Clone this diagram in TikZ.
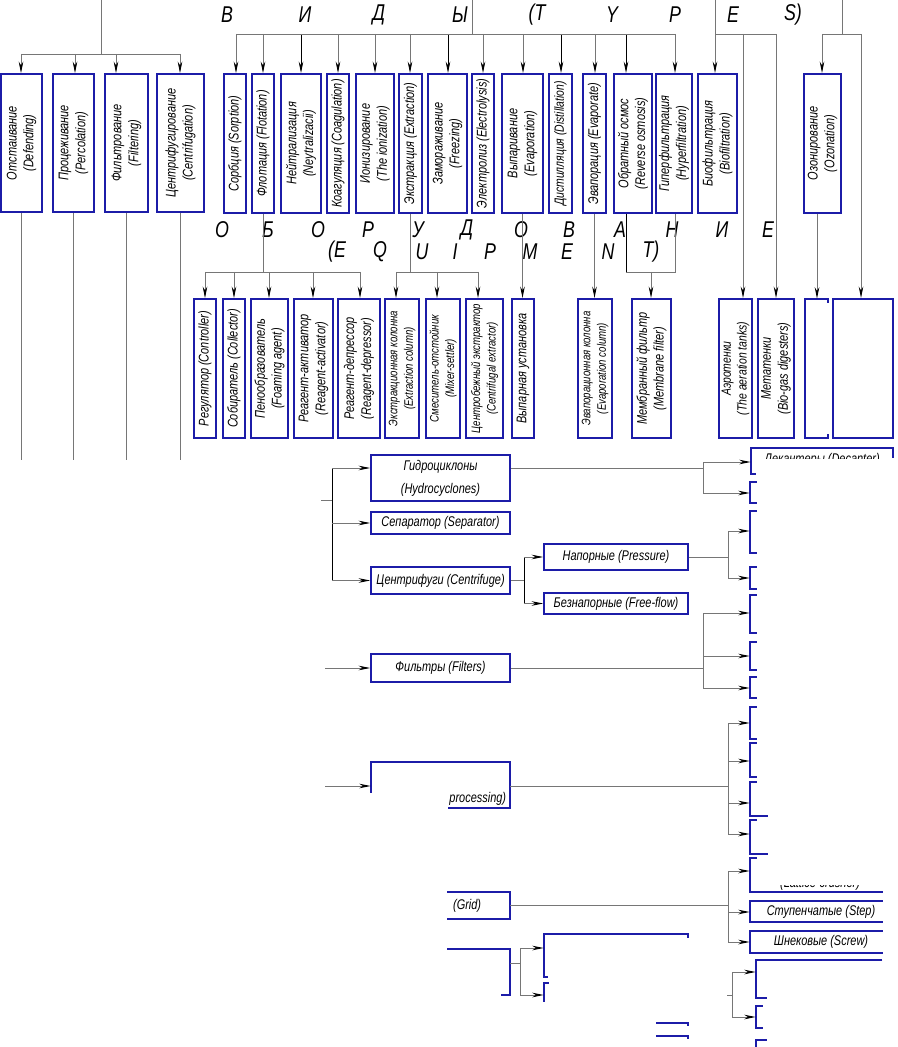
\documentclass[tikz,border=0pt]{standalone}
\usepackage{fontspec}
\setmainfont{Liberation Sans}[FakeStretch=0.78]
\usetikzlibrary{arrows.meta}
\definecolor{boxblue}{HTML}{1C1CA8}
\definecolor{wire}{HTML}{767676}
\newlength\pxu
\setlength\pxu{0.02cm}
\tikzset{
  typebox/.style = {draw=boxblue, line width=1.1pt, rotate=90, inner sep=0.5pt,
                    align=center, font=\fontsize{8}{9.6}\selectfont\itshape},
  tight/.style   = {font=\fontsize{7}{8.8}\selectfont\itshape},
  mid/.style     = {font=\fontsize{7.6}{9}\selectfont\itshape},
  rowbox/.style  = {draw=boxblue, line width=1.1pt, inner sep=0.5pt,
                    align=center, font=\fontsize{8}{9.6}\selectfont\itshape},
  rowtext/.style = {inner sep=0.5pt, align=center,
                    font=\fontsize{8}{9.6}\selectfont\itshape},
  ghost/.style   = {inner sep=0pt},
  partbox/.style = {draw=boxblue, line width=1.1pt},
  wirel/.style   = {draw=wire, line width=0.5pt},
  feed/.style    = {wirel, -{Stealth[length=6.5pt, width=2.6pt, color=black]}},
  darkfeed/.style= {feed, draw=black},
  headtxt/.style = {font=\fontsize{13}{13}\selectfont\itshape, inner sep=0pt},
}

\begin{document}
\begin{tikzpicture}[x=0.02cm, y=-0.02cm]
  \useasboundingbox (0,0) rectangle (897,1047);

  % ---------------- headings
  \foreach \c/\x in {В/227, И/305, Д/379, Ы/460, {(T}/537, Y/612, P/675, E/733, {S)}/793}
    \node[headtxt] (ha\x) at (\x,15) {\c};
  \foreach \c/\x in {О/222, Б/268, О/318, Р/368, У/418, Д/467, О/521, В/569, А/620, Н/672, И/722, Е/768}
    \node[headtxt] (hb\x) at (\x,230) {\c};
  \foreach \c/\x in {{(E}/337, Q/380, U/422, I/455, P/490, M/530, E/567, N/608, {T)}/651}
    \node[headtxt] (hc\x) at (\x,252) {\c};

  % ---------------- methods, left group
  \node[typebox, minimum width=138\pxu, minimum height=41\pxu] (defend) at (21.5,143) {Отстаивание\\(Defending)};
  \node[typebox, minimum width=138\pxu, minimum height=41\pxu] (percol) at (73.5,143) {Процеживание\\(Percolation)};
  \node[typebox, minimum width=138\pxu, minimum height=43\pxu] (filtr) at (126.5,143) {Фильтрование\\(Filtering)};
  \node[typebox, minimum width=138\pxu, minimum height=47\pxu] (centr) at (180.5,143) {Центрифугирование\\(Centrifugation)};

  \coordinate (ltop) at (101,0);
  \coordinate (lend) at (0,460);
  \foreach \x/\n in {21/defend, 75/percol, 116/filtr, 180/centr} {
    \coordinate (l\n) at (\x,54);
    \draw[feed] (l\n) -- (l\n |- \n.east);
    \draw[wirel] (\n.west) -- (\n.west |- lend);
  }
  \draw[wirel] (ltop) -- (ltop |- ldefend);
  \draw[wirel] (ldefend) -- (lcentr);

  % ---------------- methods, main group
  \node[typebox, minimum width=139\pxu, minimum height=22\pxu] (sorb) at (235,143.5) {Сорбция (Sorption)};
  \node[typebox, minimum width=139\pxu, minimum height=22\pxu] (flot) at (263,143.5) {Флотация (Flotation)};
  \node[typebox, minimum width=139\pxu, minimum height=40\pxu] (neutr) at (301,143.5) {Нейтрализация\\(Neytralizacii)};
  \node[typebox, minimum width=139\pxu, minimum height=22\pxu] (coag) at (338,143.5) {Коагуляция (Coagulation)};
  \node[typebox, minimum width=139\pxu, minimum height=38\pxu] (ioniz) at (375,143.5) {Ионизирование\\(The ionization)};
  \node[typebox, minimum width=139\pxu, minimum height=23\pxu] (extr) at (410.5,143.5) {Экстракция (Extraction)};
  \node[typebox, minimum width=139\pxu, minimum height=39\pxu] (freez) at (447.5,143.5) {Замораживание\\(Freezing)};
  \node[typebox, minimum width=139\pxu, minimum height=22\pxu] (electr) at (483,143.5) {Электролиз (Electrolysis)};
  \node[typebox, minimum width=139\pxu, minimum height=41\pxu] (evapn) at (522.5,143.5) {Выпаривание\\(Evaporation)};
  \node[typebox, mid, minimum width=139\pxu, minimum height=23\pxu] (dist) at (560.5,143.5) {Дистилляция (Distillation)};
  \node[typebox, minimum width=139\pxu, minimum height=23\pxu] (evapr) at (594.5,143.5) {Эвапорация (Evaporate)};
  \node[typebox, minimum width=139\pxu, minimum height=38\pxu] (revosm) at (633,143.5) {Обратный осмос\\(Reverse osmosis)};
  \node[typebox, minimum width=139\pxu, minimum height=36\pxu] (hyper) at (674,143.5) {Гиперфильтрация\\(Hyperfiltration)};
  \node[typebox, minimum width=139\pxu, minimum height=39\pxu] (biof) at (717.5,143.5) {Биофильтрация\\(Biofiltration)};
  \node[typebox, minimum width=139\pxu, minimum height=37\pxu] (ozon) at (822.5,143.5) {Озонирование\\(Ozonation)};

  \coordinate (ttop) at (472,0);
  \foreach \x/\n in {236/sorb, 263/flot, 338/coag, 375/ioniz, 410/extr, 483/electr, 523/evapn, 595/evapr, 675/hyper} {
    \coordinate (d\n) at (\x,34);
    \draw[feed] (d\n) -- (d\n |- \n.east);
  }
  \foreach \x/\n in {301/neutr, 448/freez, 561/dist, 626/revosm} {
    \coordinate (d\n) at (\x,34);
    \draw[darkfeed] (d\n) -- (d\n |- \n.east);
  }
  \draw[wirel] (ttop) -- (ttop |- dsorb);
  \draw[wirel] (dsorb) -- (dhyper);

  % ---------------- equipment row
  \node[typebox, minimum width=139\pxu, minimum height=22\pxu] (regul) at (205,368.5) {Регулятор (Controller)};
  \node[typebox, minimum width=139\pxu, minimum height=22\pxu] (collect) at (234,368.5) {Собиратель (Collector)};
  \node[typebox, minimum width=139\pxu, minimum height=37\pxu] (foam) at (269.5,368.5) {Пенообразователь\\(Foaming agent)};
  \node[typebox, minimum width=139\pxu, minimum height=39\pxu] (react) at (313.5,368.5) {Реагент-активатор\\(Reagent-activator)};
  \node[typebox, minimum width=139\pxu, minimum height=42\pxu] (depres) at (359,368.5) {Реагент-депрессор\\(Reagent-depressor)};
  \node[typebox, tight, minimum width=139\pxu, minimum height=34\pxu] (excol) at (402,368.5) {Экстракционная колонна\\(Extraction column)};
  \node[typebox, tight, minimum width=139\pxu, minimum height=34\pxu] (mixset) at (443,368.5) {Смеситель-отстойник\\(Mixer-settler)};
  \node[typebox, tight, minimum width=139\pxu, minimum height=37\pxu] (cextr) at (484.5,368.5) {Центробежный экстрактор\\(Centrifugal extractor)};
  \node[typebox, minimum width=139\pxu, minimum height=22\pxu] (evapu) at (523,368.5) {Выпарная установка};
  \node[typebox, tight, minimum width=139\pxu, minimum height=34\pxu] (evcol) at (595,368.5) {Эвапорационная колонна\\(Evaporation column)};
  \node[typebox, minimum width=139\pxu, minimum height=39\pxu] (membr) at (651.5,368.5) {Мембранный фильтр\\(Membrane filter)};
  \node[typebox, mid, minimum width=139\pxu, minimum height=33\pxu] (aerot) at (735.5,368.5) {Аэротенки\\(The aeration tanks)};
  \node[typebox, minimum width=139\pxu, minimum height=36\pxu] (metat) at (776,368.5) {Метатенки\\(Bio-gas digesters)};
  \node[ghost, minimum width=23\pxu, minimum height=139\pxu] (emptyA) at (816.5,368.5) {};
  \node[rowbox, minimum width=60\pxu, minimum height=139\pxu] (emptyB) at (863,368.5) {};
  \draw[partbox] ([shift={(0,4)}]emptyA.north east) -- (emptyA.north east) -- (emptyA.north west)
    -- (emptyA.south west) -- (emptyA.south east) -- ++(0,-4);

  % flotation and extraction brackets
  \foreach \x/\n in {205/regul, 234/collect, 269/foam, 313/react, 360/depres} {
    \coordinate (f\n) at (\x,272);
    \draw[feed] (f\n) -- (f\n |- \n.east);
  }
  \draw[wirel] (fregul) -- (fdepres);
  \draw[wirel] (flot.west) -- (flot.west |- fregul);
  \foreach \x/\n in {396/excol, 437/mixset, 478/cextr} {
    \coordinate (e\n) at (\x,272);
    \draw[feed] (e\n) -- (e\n |- \n.east);
  }
  \draw[wirel] (eexcol) -- (ecextr);
  \draw[wirel] (extr.west) -- (extr.west |- eexcol);

  \draw[feed] (evapn.west) -- (evapn.west |- evapu.east);
  \draw[feed] (evapr.west) -- (evapr.west |- evcol.east);

  \coordinate (mos) at (626,272);
  \coordinate (mhy) at (675,272);
  \coordinate (mmid) at (651,272);
  \draw[wirel, draw=black] (mos |- revosm.west) -- (mos);
  \draw[wirel] (mos) -- (mhy) -- (mhy |- hyper.west);
  \draw[feed] (mmid) -- (mmid |- membr.east);

  % biofiltration and ozonation
  \coordinate (btop) at (715,0);
  \coordinate (daer) at (743,34);
  \coordinate (dmet) at (776,34);
  \draw[feed] (btop) -- (btop |- biof.east);
  \draw[wirel] (btop |- daer) -- (dmet);
  \draw[feed] (daer) -- (daer |- aerot.east);
  \draw[feed] (dmet) -- (dmet |- metat.east);

  \coordinate (otop) at (842,0);
  \coordinate (doz) at (822,34);
  \coordinate (dend) at (861,34);
  \coordinate (oz) at (817,300);
  \draw[wirel] (otop) -- (otop |- doz);
  \draw[wirel] (doz) -- (dend);
  \draw[feed] (doz) -- (doz |- ozon.east);
  \draw[feed] (dend) -- (dend |- emptyB.north);
  \draw[feed] (oz |- ozon.west) -- (oz |- emptyA.north);

  % ---------------- machines, middle column
  \node[rowbox, minimum width=139\pxu, minimum height=46\pxu, font=\fontsize{8}{13}\selectfont\itshape] (hydro) at (440.5,478) {Гидроциклоны\\(Hydrocyclones)};
  \node[rowbox, minimum width=139\pxu, minimum height=22\pxu] (separ) at (440.5,523) {Сепаратор (Separator)};
  \node[rowbox, minimum width=139\pxu, minimum height=27\pxu] (centrif) at (440.5,580.5) {Центрифуги (Centrifuge)};
  \node[rowbox, minimum width=144\pxu, minimum height=26\pxu] (press) at (616,557) {Напорные (Pressure)};
  \node[rowbox, minimum width=144\pxu, minimum height=21\pxu] (freefl) at (616,603.5) {Безнапорные (Free-flow)};
  \node[rowbox, minimum width=139\pxu, minimum height=28\pxu] (filters) at (440.5,668) {Фильтры (Filters)};
  \node[ghost, minimum width=139\pxu, minimum height=46\pxu] (mech) at (440.5,785) {};
  \node[ghost, minimum width=139\pxu, minimum height=27\pxu] (grid) at (440.5,905.5) {};
  \node[ghost, minimum width=139\pxu, minimum height=46\pxu] (lowbox) at (440.5,972) {};
  \node[ghost, minimum width=144\pxu, minimum height=43\pxu] (bA) at (616,955.5) {};
  \node[ghost, minimum width=144\pxu, minimum height=46\pxu] (bB) at (616,1006) {};

  \draw[partbox] (mech.north west) ++(0,31) -- (mech.north west) -- (mech.north east)
    -- (mech.south east) -- ++(-62,0);
  \node[rowtext, anchor=south east] (mechtxt) at ([shift={(-3,-2)}]mech.south east) {processing)};
  \draw[partbox] ([shift={(-63,0)}]grid.north east) -- (grid.north east) -- (grid.south east) -- ++(-63,0);
  \node[rowtext, anchor=east] (gridtxt) at ([shift={(-28,0)}]grid.east) {(Grid)};
  \draw[partbox] ([shift={(-63,0)}]lowbox.north east) -- (lowbox.north east) -- (lowbox.south east) -- ++(-9,0);
  \draw[partbox] ([shift={(4,0)}]bA.south west) -- (bA.south west) -- (bA.north west) -- (bA.north east) -- ++(0,4);
  \draw[partbox] ([shift={(5,0)}]bB.north west) -- (bB.north west) -- ++(0,19);
  \draw[partbox] (656,1023) -- (688,1023) -- ++(0,3);
  \draw[partbox] (656,1036) -- (688,1036) -- ++(0,3);

  % ---------------- machines, right column
  \node[ghost, minimum width=142\pxu, minimum height=26\pxu] (r1) at (822,461) {};
  \foreach \n/\y/\h in {r2/492.5/21, r3/532/42, r4/578/22, r5/614/38, r6/656/28, r7/687.5/21,
                        r8/723/32, r9/760/34, r10/799/34, r11/837/34, r12/875/34}
    \node[ghost, minimum width=142\pxu, minimum height=\h\pxu] (\n) at (821,\y) {};
  \node[rowtext, minimum width=142\pxu, minimum height=21\pxu] (step) at (821,911.5) {Ступенчатые (Step)};
  \node[rowtext, minimum width=142\pxu, minimum height=22\pxu] (screw) at (821,942) {Шнековые (Screw)};
  \node[ghost, minimum width=126\pxu, minimum height=38\pxu] (r13) at (819,979) {};
  \node[ghost, minimum width=126\pxu, minimum height=22\pxu] (r14) at (819,1017) {};

  \draw[partbox] (r1.north east) ++(0,10) -- (r1.north east) -- (r1.north west) -- (r1.south west) -- ++(5,0);
  \begin{scope}
    \clip (751,448) rectangle (893,458);
    \node[rowtext] (dectxt) at (822,460) {Декантеры (Decanter)};
  \end{scope}
  \foreach \n in {r2,r3,r4,r5,r6,r7,r8,r9,r14}
    \draw[partbox] ([shift={(7,0)}]\n.north west) -- (\n.north west) -- (\n.south west) -- ++(7,0);
  \foreach \n in {r10,r11}
    \draw[partbox] ([shift={(7,0)}]\n.north west) -- (\n.north west) -- (\n.south west) -- ++(18,0);
  \draw[partbox] ([shift={(7,0)}]r12.north west) -- (r12.north west) -- (r12.south west) -- ++(133,0);
  \begin{scope}
    \clip (750,885) rectangle (893,892);
    \node[rowtext] (crushtxt) at (820,884) {(Lattice-crusher)};
  \end{scope}
  \foreach \n in {step,screw}
    \draw[partbox] ([shift={(133,0)}]\n.north west) -- (\n.north west) -- (\n.south west) -- ++(133,0);
  \draw[partbox] (r13.north east) -- (r13.north west) -- (r13.south west) -- ++(11,0);
  \draw[partbox] (756,1047) -- (756,1040) -- ++(11,0);

  % ---------------- connectors, lower part
  \coordinate (in0) at (321,500);
  \coordinate (sj1) at (332,468);
  \coordinate (sj2) at (332,523);
  \coordinate (sj3) at (332,580.5);
  \draw[wirel] (in0) -- (in0 -| sj1);
  \draw[wirel, draw=black] (sj1) -- (sj3);
  \foreach \c/\n in {sj1/hydro, sj2/separ, sj3/centrif}
    \draw[feed] (\c) -- (\c -| \n.west);

  \coordinate (hy) at (703,468);
  \coordinate (hy1) at (703,462);
  \coordinate (hy2) at (703,493);
  \draw[wirel] (hy -| hydro.east) -- (hy);
  \draw[wirel] (hy1) -- (hy2);
  \draw[feed] (hy1) -- (hy1 -| r1.west);
  \draw[feed] (hy2) -- (hy2 -| r2.west);

  \coordinate (cj1) at (524,557);
  \coordinate (cj2) at (524,603.5);
  \draw[wirel] (centrif.east) -- (centrif.east -| cj1);
  \draw[wirel, draw=black] (cj1) -- (cj2);
  \draw[feed] (cj1) -- (press.west);
  \draw[feed] (cj2) -- (freefl.west);

  \coordinate (pj1) at (728,531);
  \coordinate (pj2) at (728,578);
  \draw[wirel] (press.east) -- (press.east -| pj1);
  \draw[wirel] (pj1) -- (pj2);
  \draw[feed] (pj1) -- (pj1 -| r3.west);
  \draw[feed] (pj2) -- (pj2 -| r4.west);

  \coordinate (fin) at (325,668);
  \coordinate (fj1) at (703,613);
  \coordinate (fj2) at (703,656);
  \coordinate (fj3) at (703,688);
  \draw[feed] (fin) -- (filters.west);
  \draw[wirel] (filters.east) -- (filters.east -| fj1);
  \draw[wirel] (fj1) -- (fj3);
  \foreach \c/\n in {fj1/r5, fj2/r6, fj3/r7}
    \draw[feed] (\c) -- (\c -| \n.west);

  \coordinate (min) at (325,786);
  \coordinate (mj1) at (728,723);
  \coordinate (mj2) at (728,761);
  \coordinate (mj3) at (728,803);
  \coordinate (mj4) at (728,834);
  \draw[feed] (min) -- (min -| mech.west);
  \draw[wirel] (min -| mech.east) -- (min -| mj1);
  \draw[wirel] (mj1) -- (mj4);
  \foreach \c/\n in {mj1/r8, mj2/r9, mj3/r10, mj4/r11}
    \draw[feed] (\c) -- (\c -| \n.west);

  \coordinate (gin) at (728,905);
  \coordinate (gj1) at (728,871);
  \coordinate (gj2) at (728,912);
  \coordinate (gj3) at (728,942);
  \draw[wirel] (gin -| grid.east) -- (gin);
  \draw[wirel] (gj1) -- (gj3);
  \foreach \c/\n in {gj1/r12, gj2/step, gj3/screw}
    \draw[feed] (\c) -- (\c -| \n.west);

  \coordinate (lin) at (520,963);
  \coordinate (lj1) at (520,948);
  \coordinate (lj2) at (520,995);
  \draw[wirel] (lin -| lowbox.east) -- (lin);
  \draw[wirel] (lj1) -- (lj2);
  \draw[feed] (lj1) -- (lj1 -| bA.west);
  \draw[feed] (lj2) -- (lj2 -| bB.west);

  \coordinate (tj0) at (727,995);
  \coordinate (tj1) at (732,972);
  \coordinate (tj2) at (732,1017);
  \draw[wirel] (tj0) -- (tj0 -| tj1);
  \draw[wirel] (tj1) -- (tj2);
  \draw[feed] (tj1) -- (tj1 -| r13.west);
  \draw[feed] (tj2) -- (tj2 -| r14.west);
\end{tikzpicture}
\end{document}
